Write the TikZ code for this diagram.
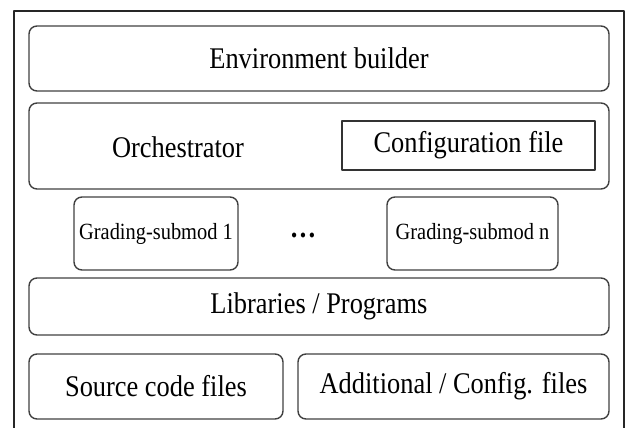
\documentclass[tikz,border=0pt]{standalone}
\usepackage{fontspec}
\setmainfont{Liberation Serif}[FakeStretch=0.88]
\begin{document}
\begin{tikzpicture}[x=.5pt, y=-.5pt, line join=round, line cap=round,
    font=\fontsize{15}{18}\selectfont,
    layer/.style={draw=black!75, line width=.7pt, rounded corners=4pt, inner sep=0pt},
    cfgbox/.style={draw=black!80, line width=.7pt, inner sep=0pt},
    submod/.style={layer, font=\fontsize{11.6}{14}\selectfont}]
            \def\W{290pt} % full width of a layer
            \useasboundingbox (0,0) rectangle (626,428);
            \draw[line width=1pt, black!85] (14,428)--(14,11)--(624,11)--(624,428);
            \node[layer, minimum width=\W, minimum height=32.5pt] (env) at (319,58.5) {Environment builder};
            \node[layer, minimum width=\W, minimum height=43pt] (orch) at (319,146) {};
            \node (orchtxt) at (178,147) {Orchestrator};
            \node[cfgbox, minimum width=126.5pt, minimum height=24.5pt] (cfg) at (468.5,145.5) {Configuration file};
            \node[submod, minimum width=82pt, minimum height=36.5pt] (sub1) at (156,233.5) {Grading-submod 1};
            \node[font=\fontsize{15}{18}\selectfont\bfseries] (dots) at (303,235) {\dots};
            \node[submod, minimum width=85.5pt, minimum height=36.5pt] (subn) at (472.5,233.5) {Grading-submod n};
            \node[layer, minimum width=\W, minimum height=28.5pt] (lib) at (319,306.5) {Libraries / Programs};
            \node[layer, minimum width=127pt, minimum height=32.5pt] (src) at (156,386.5) {Source code files};
            \node[layer, minimum width=155.5pt, minimum height=32.5pt] (add) at (453.5,386.5) {Additional / Config. files};
        \end{tikzpicture}
\end{document}
